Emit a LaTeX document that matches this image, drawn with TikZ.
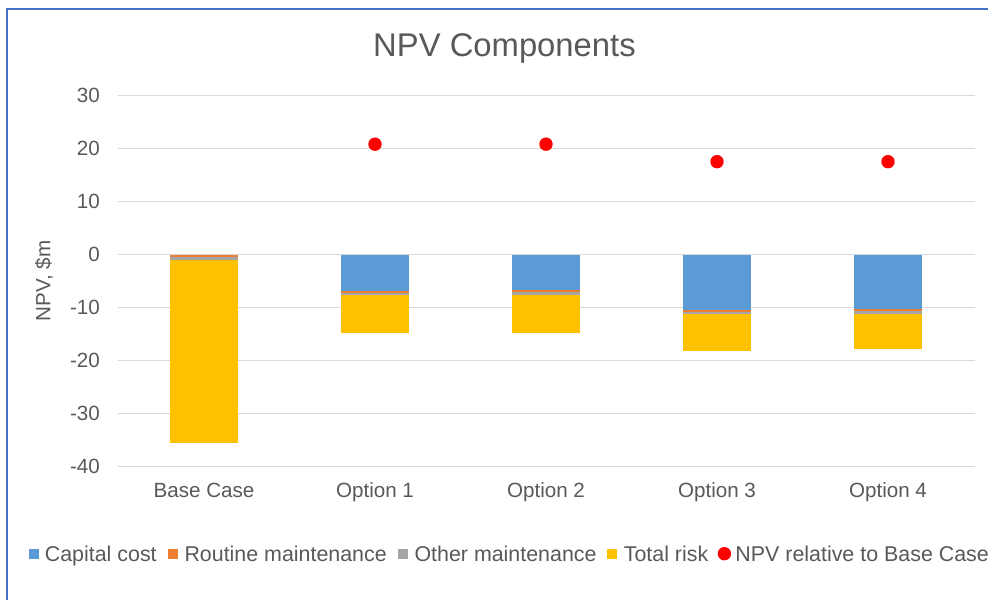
\documentclass[tikz,border=0pt]{standalone}
\usepackage{fontspec}
\setmainfont{Liberation Sans}
\usetikzlibrary{positioning}
\definecolor{capcol}{HTML}{5B9BD5}
\definecolor{routcol}{HTML}{ED7D31}
\definecolor{othcol}{HTML}{A5A5A5}
\definecolor{riskcol}{HTML}{FFC000}
\definecolor{txtcol}{HTML}{595959}
\definecolor{gridcol}{HTML}{D9D9D9}
\definecolor{framecol}{HTML}{4472C4}
\begin{document}
\begin{tikzpicture}[x=1pt,y=1pt,
		lbl/.style={text=txtcol,inner sep=0pt,font=\fontsize{20.6}{24}\selectfont},
		ltxt/.style={text=txtcol,inner sep=0pt,text height=15pt,text depth=0pt,font=\fontsize{21.4}{25}\selectfont},
		key/.style={minimum size=10pt,inner sep=0pt}]
			\useasboundingbox (0,0) rectangle (988,600);
			\fill[white] (0,0) rectangle (988,600);
			\draw[framecol,line width=2pt] (6.5,0)-- (6.5,590.7)-- (988,590.7);
			\node[lbl,anchor=base,font=\fontsize{32.8}{38}\selectfont] (title) at (504.5,543.3) {NPV Components};
			\node[lbl,rotate=90] (ylab) at (44,319) {NPV, \$m};
			\begin{scope}[shift={(0,345.3)},y=5.3pt]
				\foreach \v in {-40,-30,...,30} {
					\draw[gridcol,line width=1.2pt] (118,\v)-- (975,\v);
					\node[lbl,anchor=east] (tick\v) at (100,\v) {\v};
				}
				\foreach \x/\ea/\eb/\ec/\ed in {204/0/-0.35/-1.0/-35.6, 375/-6.85/-7.15/-7.6/-14.8,
						546/-6.6/-7.0/-7.6/-14.8, 717/-10.45/-10.8/-11.2/-18.1, 888/-10.3/-10.7/-11.2/-17.85} {
					\fill[capcol] (\x-34,0) rectangle (\x+34,\ea);
					\fill[routcol] (\x-34,\ea) rectangle (\x+34,\eb);
					\fill[othcol] (\x-34,\eb) rectangle (\x+34,\ec);
					\fill[riskcol] (\x-34,\ec) rectangle (\x+34,\ed);
				}
				\foreach \x/\v in {375/20.85, 546/20.85, 717/17.55, 888/17.55}
					\fill[red] (\x,\v) circle (6.7pt);
			\end{scope}
			\foreach \x/\t [count=\i] in {204/Base Case, 375/Option 1, 546/Option 2, 717/Option 3, 888/Option 4}
				\node[lbl,anchor=base] (cat\i) at (\x,102) {\t};
			\node[key,fill=capcol] (kcap) at (33.5,46.3) {};
			\node[ltxt,right=6pt of kcap] (tcap) {Capital cost};
			\node[key,fill=routcol,right=11pt of tcap] (krout) {};
			\node[ltxt,right=6pt of krout] (trout) {Routine maintenance};
			\node[key,fill=othcol,right=11pt of trout] (koth) {};
			\node[ltxt,right=6pt of koth] (toth) {Other maintenance};
			\node[key,fill=riskcol,right=10.5pt of toth] (krisk) {};
			\node[ltxt,right=6pt of krisk] (trisk) {Total risk};
			\node[key,circle,fill=red,minimum size=13.4pt,right=9pt of trisk] (knpv) {};
			\node[ltxt,right=4pt of knpv] (tnpv) {NPV relative to Base Case};
		\end{tikzpicture}
\end{document}
